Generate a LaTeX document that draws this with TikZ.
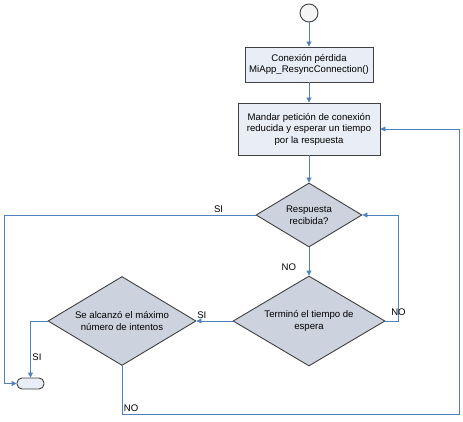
\documentclass[tikz,border=0pt]{standalone}
\usepackage{fontspec}
\setmainfont{Liberation Sans}
\usetikzlibrary{shapes.geometric,arrows.meta}
\definecolor{linea}{HTML}{4F81BD}
\definecolor{borde}{HTML}{404040}
\definecolor{caja}{HTML}{E9EDF5}
\definecolor{rombo}{HTML}{CDD3DE}
\begin{document}
\begin{tikzpicture}[x=1pt,y=-1pt,
	font=\fontsize{9.6}{11.5}\selectfont,
	proceso/.style={draw=borde,fill=caja,line width=0.9pt,align=center,inner sep=0pt},
	decision/.style={diamond,draw=borde,fill=rombo,line width=0.9pt,align=center,inner sep=0pt},
	flecha/.style={draw=linea,line width=0.9pt,-{Triangle[length=5pt,width=5pt]}},
	etiqueta/.style={inner sep=1.5pt,font=\fontsize{9.6}{11.5}\selectfont}]
			\useasboundingbox (0,0) rectangle (463,422);
			\node[circle,draw=borde,fill=white!96!black,line width=0.9pt,minimum size=18pt,inner sep=0pt] (inicio) at (309,13) {};
			\node[proceso,minimum width=128pt,minimum height=35pt] (perdida) at (309,64.5) {Conexión pérdida\\MiApp\_ResyncConnection()};
			\node[proceso,minimum width=142pt,minimum height=52pt] (mandar) at (309,129) {Mandar petición de conexión\\reducida y esperar un tiempo\\por la respuesta};
			\node[decision,minimum width=106pt,minimum height=64pt,aspect=1.66] (resp) at (309,215) {Respuesta\\recibida?};
			\node[decision,minimum width=152pt,minimum height=90pt,aspect=1.69] (term) at (309,321) {Terminó el tiempo de\\espera};
			\node[decision,minimum width=148pt,minimum height=89pt,aspect=1.66] (alc) at (122,321) {Se alcanzó el máximo\\número de intentos};
			\node[draw=borde,fill=caja,line width=0.9pt,rounded corners=5pt,minimum width=27pt,minimum height=11pt,inner sep=0pt] (fin) at (30.5,383.5) {};
			\coordinate (izq) at (4,215);
			\coordinate (abajo) at (459,414);
			\draw[flecha] (inicio) -- (perdida);
			\draw[flecha] (perdida) -- (mandar);
			\draw[flecha] (mandar) -- (resp);
			\draw[flecha] (resp.west) -- node[etiqueta,pos=0.147,above] (siRecibida) {SI} (izq) |- (fin.west);
			\draw[flecha] (resp.south) -- node[etiqueta,pos=0.7,left=11pt] (noRecibida) {NO} (term.north);
			\draw[flecha] (term.east) -- ++(13,0) node[etiqueta,above=3pt] (noTermino) {NO} |- (resp.east);
			\draw[flecha] (term.west) -- node[etiqueta,pos=0.85,above] (siTermino) {SI} (alc.east);
			\draw[flecha] (alc.west) -| node[etiqueta,pos=0.82,right] (siMaximo) {SI} (fin.north);
			\draw[flecha] (alc.south) |- node[etiqueta,pos=0.5,above right] (noMaximo) {NO} (abajo) |- (mandar.east);
			\end{tikzpicture}
\end{document}
